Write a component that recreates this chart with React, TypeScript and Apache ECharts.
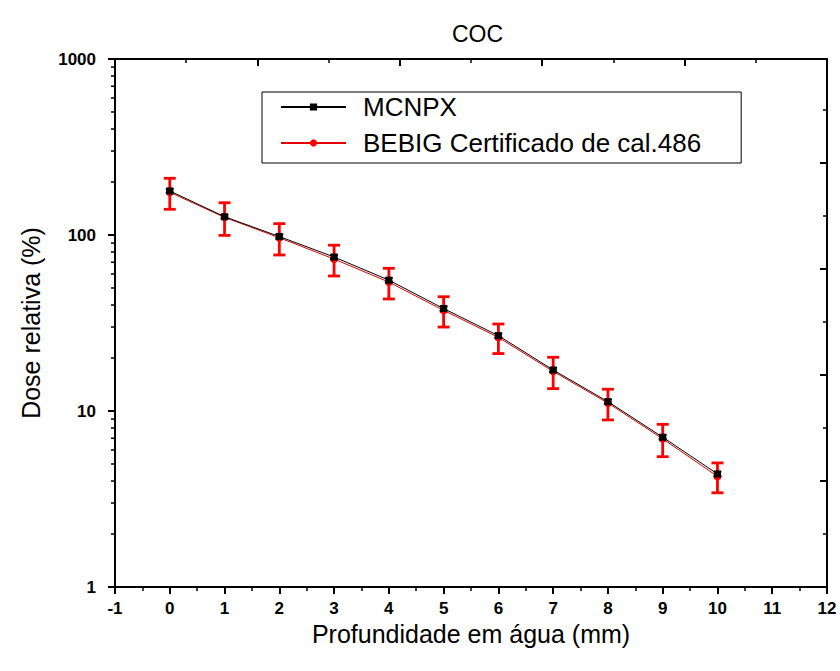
import React, { useEffect, useRef } from "react";
import * as echarts from "echarts";

const depth = [0, 1, 2, 3, 4, 5, 6, 7, 8, 9, 10];
const mcnpx = [178, 127, 98, 75, 55.4, 38.2, 26.8, 17.1, 11.3, 7.1, 4.39];
const mcnpxErr = [5, 3.6, 2.8, 2.1, 1.6, 1.1, 0.8, 0.5, 0.33, 0.21, 0.13];
const bebig = [175, 126, 96.5, 73, 54, 37.3, 26.2, 16.8, 11.1, 6.95, 4.25];
const bebigErr = [35, 26.5, 19.5, 14.5, 10.7, 7.3, 5.0, 3.4, 2.2, 1.45, 0.82];
const yMinorTicks = [2, 3, 4, 5, 6, 7, 8, 9, 20, 30, 40, 50, 60, 70, 80, 90, 200, 300, 400, 500, 600, 700, 800, 900];

const FONT = "Arial, 'Liberation Sans', sans-serif";

function errorSeries(name: string, vals: number[], errs: number[], color: string, capW: number, lw: number, z: number) {
  return {
    name,
    type: "custom",
    xAxisIndex: 0,
    yAxisIndex: 0,
    z,
    silent: true,
    encode: { x: 0, y: [1, 2] },
    data: depth.map((x, i) => [x, vals[i] - errs[i], vals[i] + errs[i]]),
    renderItem: (_p: any, api: any) => {
      const x = api.value(0);
      const lo = api.coord([x, api.value(1)]);
      const hi = api.coord([x, api.value(2)]);
      const h = capW / 2;
      const style = { stroke: color, lineWidth: lw };
      return {
        type: "group",
        children: [
          { type: "line", shape: { x1: lo[0], y1: lo[1], x2: hi[0], y2: hi[1] }, style },
          { type: "line", shape: { x1: lo[0] - h, y1: lo[1], x2: lo[0] + h, y2: lo[1] }, style },
          { type: "line", shape: { x1: hi[0] - h, y1: hi[1], x2: hi[0] + h, y2: hi[1] }, style },
        ],
      };
    },
  };
}

export default function App() {
  const ref = useRef<HTMLDivElement>(null);
  useEffect(() => {
    if (!ref.current) return;
    const chart = echarts.init(ref.current, undefined, { renderer: "svg" });
    const axisLine = { show: true, onZero: false, lineStyle: { color: "#000", width: 2 } };
    const option: any = {
      animation: false,
      backgroundColor: "#fff",
      title: {
        text: "COC",
        left: 447,
        top: 17,
        textStyle: { fontFamily: FONT, fontSize: 23, fontWeight: "normal", color: "#000" },
      },
      grid: { left: 115, right: 13, top: 59, bottom: 84, containLabel: false },
      legend: {
        data: ["MCNPX", "BEBIG Certificado de cal.486"],
        orient: "vertical",
        left: 262,
        top: 92,
        borderColor: "#000",
        borderWidth: 1,
        padding: [2, 40, 7, 18],
        itemWidth: 65,
        itemHeight: 9,
        itemGap: 10,
        textStyle: { fontFamily: FONT, fontSize: 26, color: "#000", padding: [0, 0, 0, 12] },
      },
      xAxis: [
        {
          type: "value",
          position: "bottom",
          min: -1,
          max: 12,
          interval: 1,
          axisLine,
          axisTick: { show: true, inside: false, length: 7, lineStyle: { color: "#000", width: 2 } },
          minorTick: { show: true, splitNumber: 2, length: 4, lineStyle: { color: "#000", width: 1.5 } },
          splitLine: { show: false },
          axisLabel: { fontFamily: FONT, fontSize: 17, fontWeight: "bold", color: "#000", margin: 13 },
          name: "Profundidade em água (mm)",
          nameLocation: "middle",
          nameGap: 31,
          nameTextStyle: { fontFamily: FONT, fontSize: 25, color: "#000" },
        },
        {
          type: "value",
          position: "top",
          min: 0,
          max: 10,
          interval: 2,
          axisLine,
          axisTick: { show: true, inside: true, length: 7, lineStyle: { color: "#000", width: 2 } },
          minorTick: { show: true, splitNumber: 2, length: 4, lineStyle: { color: "#000", width: 1.5 } },
          splitLine: { show: false },
          axisLabel: { show: false },
        },
      ],
      yAxis: [
        {
          type: "log",
          logBase: 10,
          position: "left",
          min: 1,
          max: 1000,
          axisLine,
          axisTick: { show: true, inside: false, length: 7, lineStyle: { color: "#000", width: 2 } },
          splitLine: { show: false },
          axisLabel: {
            fontFamily: FONT,
            fontSize: 17,
            fontWeight: "bold",
            color: "#000",
            margin: 19,
            formatter: (v: number) => String(Math.round(v)),
          },
          name: "Dose relativa (%)",
          nameLocation: "middle",
          nameGap: 72,
          nameTextStyle: { fontFamily: FONT, fontSize: 25, color: "#000" },
        },
        {
          type: "value",
          position: "right",
          min: 0,
          max: 3,
          interval: 0.60206,
          axisLine,
          axisTick: { show: true, inside: true, length: 7, lineStyle: { color: "#000", width: 2 } },
          minorTick: { show: true, splitNumber: 2, length: 4, lineStyle: { color: "#000", width: 1.5 } },
          splitLine: { show: false },
          axisLabel: { show: false },
        },
      ],
      series: [
        {
          name: "minorTicks",
          type: "custom",
          xAxisIndex: 0,
          yAxisIndex: 0,
          clip: false,
          silent: true,
          data: yMinorTicks.map((v) => [-1, v]),
          renderItem: (_p: any, api: any) => {
            const p = api.coord([api.value(0), api.value(1)]);
            return {
              type: "line",
              shape: { x1: p[0] - 4, y1: p[1], x2: p[0], y2: p[1] },
              style: { stroke: "#000", lineWidth: 1.5 },
            };
          },
        },
        {
          name: "BEBIG Certificado de cal.486",
          type: "line",
          xAxisIndex: 0,
          yAxisIndex: 0,
          data: depth.map((x, i) => [x, bebig[i]]),
          symbol: "circle",
          symbolSize: 8,
          itemStyle: { color: "#ff0000" },
          lineStyle: { color: "#e00000", width: 1 },
          z: 3,
        },
        errorSeries("bebigErr", bebig, bebigErr, "#ff0000", 12, 2.8, 4),
        {
          name: "MCNPX",
          type: "line",
          xAxisIndex: 0,
          yAxisIndex: 0,
          data: depth.map((x, i) => [x, mcnpx[i]]),
          symbol: "rect",
          symbolSize: 7,
          itemStyle: { color: "#000" },
          lineStyle: { color: "#000", width: 1 },
          z: 5,
        },
        errorSeries("mcnpxErr", mcnpx, mcnpxErr, "#000", 8, 1.5, 6),
      ],
    };
    chart.setOption(option);
    return () => chart.dispose();
  }, []);
  return <div ref={ref} style={{ position: "fixed", left: 0, top: 0, width: 840, height: 671 }} />;
}
